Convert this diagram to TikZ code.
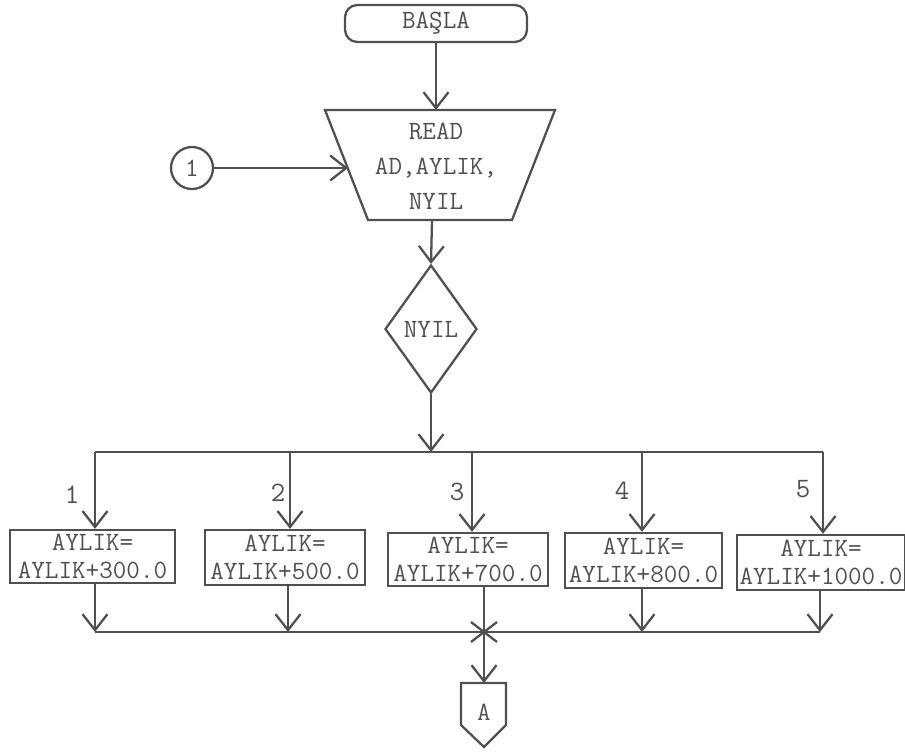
\documentclass[tikz,border=0pt]{standalone}
\usepackage{fontspec}
\usetikzlibrary{arrows.meta,shapes.geometric}
\definecolor{ink}{HTML}{505050}
\begin{document}
\begin{tikzpicture}[x=0.02cm,y=-0.02cm,
  every node/.style={text=ink,font=\ttfamily\fontsize{15}{20}\selectfont},
  ln/.style={draw=ink,line width=1.3pt},
  arr/.style={ln,-{Straight Barb[length=3.2mm,width=5mm,line width=1.3pt]}},
  procbox/.style={ln,rectangle,inner sep=0pt,align=center,font=\ttfamily\fontsize{15}{15.5}\selectfont},
  lbl/.style={font=\ttfamily\fontsize{16}{16}\selectfont}]
\useasboundingbox (0,0) rectangle (905,751);
% start
\node[ln,rectangle,rounded corners=7pt,minimum width=3.64cm,minimum height=0.74cm] (start) at (436,23.5) {BAŞLA};
% read trapezium
\draw[ln] (325,110) -- (555,110) -- (512,220) -- (368,220) -- cycle;
\node[minimum width=2.9cm,minimum height=2.2cm,inner sep=0pt,align=center] (read) at (436,166) {READ\\AD,AYLIK,\\NYIL};
\coordinate (readin) at (348,168);
\coordinate (readout) at (432,220);
\draw[arr] (start.south) -- (436,110);
% connector 1
\node[ln,circle,minimum size=0.84cm,inner sep=0pt] (c1) at (192,168) {1};
\draw[arr] (c1.east) -- (readin);
% diamond
\node[ln,diamond,minimum width=1.84cm,minimum height=2.56cm,inner sep=0pt] (dec) at (431,329) {NYIL};
\draw[arr] (readout) -- (dec.north);
% top bus
\coordinate (t) at (431,452);
\draw[arr] (dec.south) -- (t);
\coordinate (d1) at (95,452);
\coordinate (d2) at (290,452);
\coordinate (d3) at (472,452);
\coordinate (d4) at (642,452);
\coordinate (d5) at (823,452);
\draw[ln] (d1) -- (d5);
% boxes
\node[procbox,minimum width=3.3cm,minimum height=1.06cm] (b1) at (92.5,556.5) {AYLIK=\\AYLIK+300.0};
\node[procbox,minimum width=3.2cm,minimum height=1.1cm] (b2) at (285,557.5) {AYLIK=\\AYLIK+500.0};
\node[procbox,minimum width=3.2cm,minimum height=1.06cm] (b3) at (468,559.5) {AYLIK=\\AYLIK+700.0};
\node[procbox,minimum width=3.14cm,minimum height=1.1cm] (b4) at (643.5,560.5) {AYLIK=\\AYLIK+800.0};
\node[procbox,minimum width=3.36cm,minimum height=1.1cm] (b5) at (821,562.5) {AYLIK=\\AYLIK+1000.0};
\foreach \i in {1,...,5}{\draw[arr] (d\i) -- (d\i |- b\i.north);}
% labels
\node[lbl] (l1) at (72,495) {1};
\node[lbl] (l2) at (278,493) {2};
\node[lbl] (l3) at (457,492) {3};
\node[lbl] (l4) at (622,491) {4};
\node[lbl] (l5) at (803,489) {5};
% bottom bus
\coordinate (e1) at (95,632);
\coordinate (e2) at (288,632);
\coordinate (e3) at (484,632);
\coordinate (e4) at (642,632);
\coordinate (e5) at (820,632);
\draw[ln] (e1) -- (e5);
\draw[arr] (e1 |- b1.south) -- (e1);
\draw[arr] (e2 |- b2.south) -- (e2);
\draw[ln] (e3 |- b3.south) -- (e3);
\draw[arr] (e4 |- b4.south) -- (e4);
\draw[arr] (e5 |- b5.south) -- (e5);
\draw[ln] ([shift={(-13,-10)}]e3) -- ([shift={(13,10)}]e3);
\draw[ln] ([shift={(-13,10)}]e3) -- ([shift={(13,-10)}]e3);
% off-page connector
\draw[ln] (461,683) -- (506,683) -- (506,725) -- (484,747) -- (461,725) -- cycle;
\node (A) at (484,712) {A};
\coordinate (atop) at (484,683);
\draw[arr] (e3) -- (atop);
\end{tikzpicture}
\end{document}
